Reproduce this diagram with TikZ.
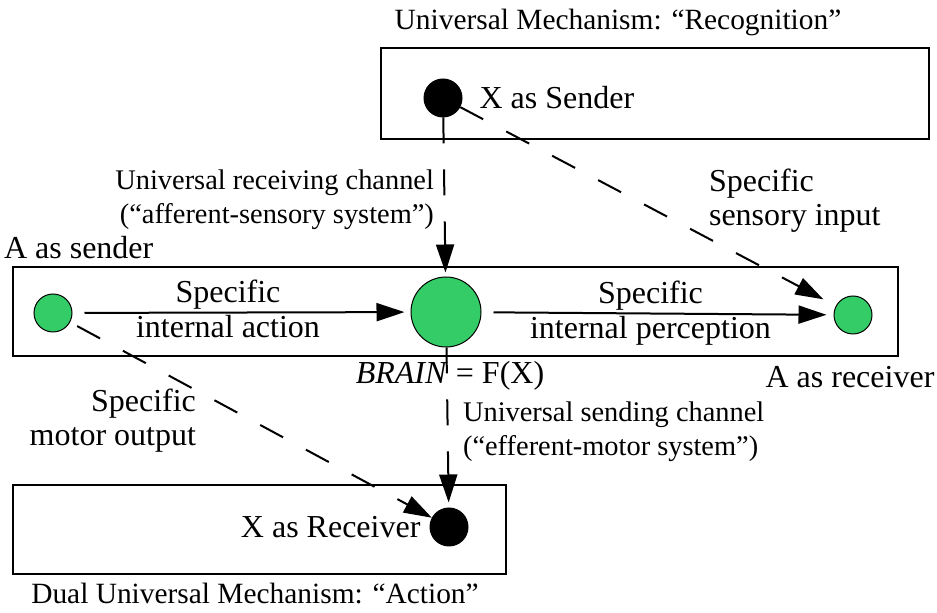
\documentclass[tikz,border=0pt]{standalone}
\usepackage{fontspec}
\setmainfont{Liberation Serif}
\usetikzlibrary{positioning,arrows.meta}
\definecolor{cellgreen}{RGB}{51,204,102}
\tikzstyle{every node}=[font=\fontsize{16}{17}\selectfont]
\tikzstyle{small}=[font=\fontsize{14.2}{17}\selectfont]
\tikzstyle{title}=[font=\fontsize{14.7}{17}\selectfont]
\tikzstyle{panel}=[draw,line width=1.3pt,inner sep=0pt]
\tikzstyle{dot}=[circle,draw,line width=0.5pt,inner sep=0pt,minimum size=19pt]
\tikzstyle{lbl}=[inner sep=1pt]
\tikzstyle{arrow}=[line width=1pt,-{Triangle[length=14pt,width=9pt]}]
\tikzstyle{dasharrow}=[arrow,dash pattern=on 13pt off 13pt]

\begin{document}
\begin{tikzpicture}[x=0.5pt,y=-0.5pt]
\useasboundingbox (0,0) rectangle (937,613);

% mechanism boxes
\node[panel,minimum width=274pt,minimum height=45.5pt] (recog) at (655,93.5) {};
\node[panel,minimum width=442.5pt,minimum height=44.5pt] (body) at (455.5,311.5) {};
\node[panel,minimum width=246.5pt,minimum height=44.5pt] (act) at (259.5,529.5) {};

% titles
\node[title] (recogtitle) at (618,22) {Universal Mechanism: “Recognition”};
\node[title] (acttitle) at (255,594) {Dual Universal Mechanism: “Action”};

% dots
\node[dot,fill=black] (xsend) at (443,98) {};
\node[dot,fill=cellgreen] (asend) at (53,313) {};
\node[dot,fill=cellgreen,minimum size=35pt] (brain) at (446,312) {};
\node[dot,fill=cellgreen] (arecv) at (853,315) {};
\node[dot,fill=black] (xrecv) at (449,527) {};

% labels
\node[right=5pt of xsend] (xsendlbl) {X as Sender};
\node[left=1pt of xrecv] (xrecvlbl) {X as Receiver};
\node[anchor=west] (asendlbl) at (-3,248) {A as sender};
\node (arecvlbl) at (850,377) {A as receiver};
\node (brainlbl) at (450,376) {\textit{BRAIN} = F(X)};
\node[small,align=right,anchor=east] (afferent) at (441,200) {Universal receiving channel\\(“afferent-sensory system”)};
\node[small,align=left,anchor=west] (efferent) at (456,432) {Universal sending channel\\(“efferent-motor system”)};
\node[align=left,anchor=west] (sensory) at (702,201) {Specific\\sensory input};
\node[align=right,anchor=east] (motor) at (203,421) {Specific\\motor output};

% internal arrows
\draw[arrow,shorten <=6pt,shorten >=3pt] (asend) -- node[lbl,pos=0.46,above] {Specific} node[lbl,pos=0.46,below] {internal action} (brain);
\draw[arrow,shorten <=6pt,shorten >=3.5pt] (brain) -- node[lbl,pos=0.48,above] {Specific} node[lbl,pos=0.48,below] {internal perception} (arecv);

% channels
\draw[dasharrow,shorten >=2pt] (xsend) -- (brain);
\draw[dasharrow,shorten >=2.5pt] (brain) -- (xrecv);
\draw[dasharrow,shorten >=7pt] (xsend) -- (arecv);
\draw[dasharrow,shorten <=4pt] (asend) -- (xrecv);

\end{tikzpicture}
\end{document}
